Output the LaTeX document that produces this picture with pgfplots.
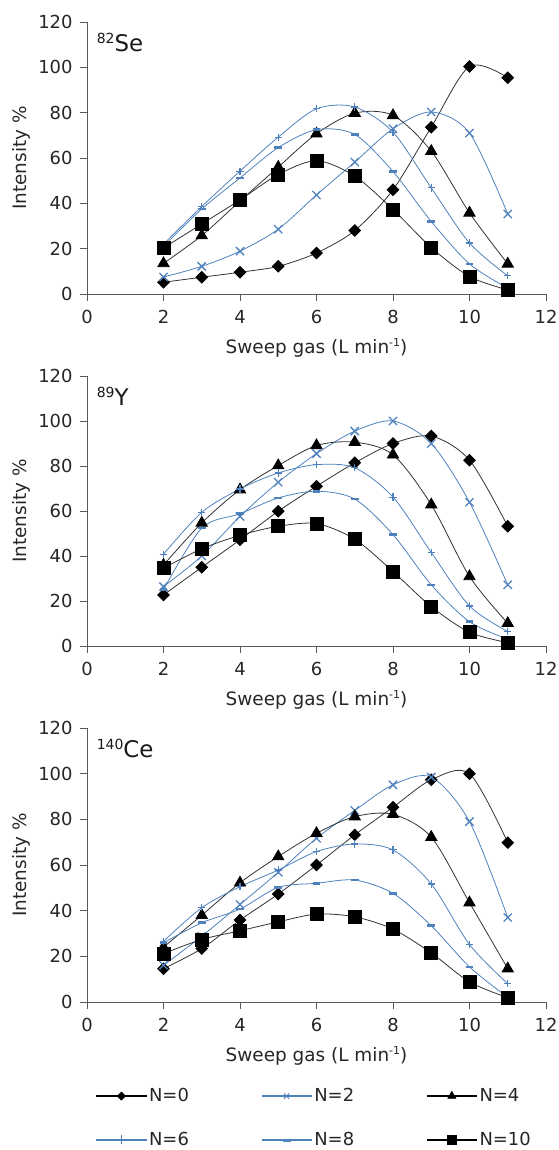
\documentclass[border=0pt]{standalone}
\usepackage{fontspec}
\setmainfont{DejaVu Sans}
\usepackage{pgfplots}
\pgfplotsset{compat=1.18}
\usepackage{pgfplotstable}

\definecolor{bl}{RGB}{79,129,189}
\definecolor{dk}{RGB}{50,50,50}

\pgfplotstableread{
x n0 n2 n4 n6 n8 n10
2 5.2 7.5 13.5 22 21 20.3
3 7.4 12.2 25.8 38.6 37.5 30.9
4 9.6 18.9 41 54.2 51.2 41.5
5 12.2 28.6 56 69.2 64.6 52.7
6 18.1 43.7 70.7 81.7 72.5 58.8
7 28 58.2 79.8 82.5 70.4 52
8 46 72.9 78.8 71.4 54 37.3
9 73.6 80.3 63 46.8 32 20.5
10 100.4 71 35.8 22.5 13.3 7.7
11 95.4 35.3 13.3 8 2.5 1.8
}\Se

\pgfplotstableread{
x n0 n2 n4 n6 n8 n10
2 22.7 26.4 36 40.8 25 34.6
3 35 40 54.7 59.4 52.4 43.2
4 47.2 57.6 69.5 69.8 58.8 49.2
5 59.9 72.8 80.2 76.9 65.8 53.2
6 71 85.5 89.1 80.6 68.8 54.4
7 81.4 95.5 90.6 79.2 65.3 47.5
8 90 100 85 66.2 49.5 33.1
9 93.3 90 62.8 41.6 27.2 17.5
10 82.6 63.9 30.9 17.8 10.8 6.1
11 53.2 27.2 10.1 6.4 3 1.5
}\Yt

\pgfplotstableread{
x n0 n2 n4 n6 n8 n10
2 14.6 16.1 24 26.6 25.9 21.2
3 23.4 28.8 38 41.3 34.7 27.4
4 35.9 42.7 52.2 50.5 40.7 31.2
5 47.3 56.8 63.7 57.8 50.2 35.1
6 60 71.7 73.9 65.9 52 38.5
7 73.2 83.9 81.2 69.2 53.4 37.3
8 85.3 95.1 82.2 66.6 47.6 31.9
9 97.3 98.5 72.2 51.7 33.4 21.5
10 100 79 43.5 25.2 15.4 8.8
11 69.8 37 14.6 8 2 1.9
}\Ce

\pgfplotsset{
 panel/.style={
  scale only axis, width=459bp, height=272bp,
  xmin=0,xmax=12,ymin=0,ymax=120,
  xtick={0,2,...,12}, ytick={0,20,...,120},
  axis x line*=bottom, axis y line*=left,
  axis line style={-, black!65, line width=0.9pt},
  tick align=outside, major tick length=7bp,
  tick style={black!65, line width=0.9pt},
  /pgf/number format/assume math mode=true,
  tick label style={font=\fontsize{18}{21}\selectfont, text=black!85},
  xticklabel style={yshift=-6bp},
  yticklabel style={xshift=-4bp},
  label style={font=\fontsize{18.5}{21}\selectfont, text=black!85},
  xlabel={Sweep gas (L min\raisebox{6.5bp}{\fontsize{11}{11}\selectfont-1})},
  ylabel={Intensity \%},
  xlabel style={at={(axis description cs:0.5,0)}, anchor=center, yshift=-54bp},
  ylabel style={at={(axis description cs:0,0.5)}, anchor=center, yshift=66bp},
  clip=false,
 },
 lg/.style n args={3}{legend image code/.code={\draw[#1, line width=1.4pt, mark repeat=2, mark phase=2, #2, mark options={#3}] plot coordinates {(0bp,0bp) (25bp,0bp) (50bp,0bp)};}},
 s0/.style={dk, line width=0.8pt, smooth, mark=square*, mark size=4.1bp, mark options={rotate=45, fill=black, draw=black, line width=0.8pt},
   lg={black}{mark=square*, mark size=2.9bp}{rotate=45, fill=black, draw=black, line width=0.5pt}},
 s2/.style={bl, line width=0.8pt, smooth, mark=x, mark size=5.8bp, mark options={line width=1.3pt},
   lg={bl}{mark=x, mark size=3.8bp}{line width=0.9pt}},
 s4/.style={dk, line width=0.8pt, smooth, mark=triangle*, mark size=6.5bp, mark options={fill=black, draw=black, line width=0.8pt},
   lg={black}{mark=triangle*, mark size=4.8bp}{fill=black, draw=black, line width=0.5pt}},
 s6/.style={bl, line width=0.8pt, smooth, mark=+, mark size=3.6bp, mark options={line width=1.1pt},
   lg={bl}{mark=+, mark size=4.5bp}{line width=0.8pt}},
 s8/.style={bl, line width=0.8pt, smooth, mark=-, mark size=3.9bp, mark options={line width=2.6pt},
   lg={bl}{mark=-, mark size=4bp}{line width=2.2pt, yshift=-1bp}},
 s10/.style={dk, line width=0.8pt, smooth, mark=square*, mark size=6.5bp, mark options={fill=black, draw=black, line width=0.8pt},
   lg={black}{mark=square*, mark size=4.6bp}{fill=black, draw=black, line width=0.5pt}},
}

\begin{document}
\begin{tikzpicture}
\useasboundingbox (0,0) rectangle (559bp,-1150bp);

\begin{axis}[panel, at={(87bp,-294bp)}, anchor=south west]
\addplot[s0] table[x=x,y=n0]{\Se};
\addplot[s2] table[x=x,y=n2]{\Se};
\addplot[s4] table[x=x,y=n4]{\Se};
\addplot[s6] table[x=x,y=n6]{\Se};
\addplot[s8] table[x=x,y=n8]{\Se};
\addplot[s10] table[x=x,y=n10]{\Se};
\node[anchor=west, font=\fontsize{23}{27}\selectfont, inner sep=0pt, text=black!90] at (axis cs:0.25,111) {\raisebox{8.5bp}{\fontsize{14}{14}\selectfont 82}Se};
\end{axis}

\begin{axis}[panel, at={(87bp,-646bp)}, anchor=south west, height=270bp]
\addplot[s0] table[x=x,y=n0]{\Yt};
\addplot[s2] table[x=x,y=n2]{\Yt};
\addplot[s4] table[x=x,y=n4]{\Yt};
\addplot[s6] table[x=x,y=n6]{\Yt};
\addplot[s8] table[x=x,y=n8]{\Yt};
\addplot[s10] table[x=x,y=n10]{\Yt};
\node[anchor=west, font=\fontsize{23}{27}\selectfont, inner sep=0pt, text=black!90] at (axis cs:0.25,111) {\raisebox{8.5bp}{\fontsize{14}{14}\selectfont 89}Y};
\end{axis}

\begin{axis}[panel, at={(87bp,-1002bp)}, anchor=south west, height=274bp,
  legend columns=3,
  legend style={at={(0.012,-0.301)}, anchor=north west, draw=none, fill=none,
    font=\fontsize{18}{21}\selectfont, text=black!85,
    /tikz/every even column/.append style={column sep=70bp},
    /tikz/row sep=25bp},
  legend cell align=left]
\addplot[s0] table[x=x,y=n0]{\Ce}; \addlegendentry{N=0}
\addplot[s2] table[x=x,y=n2]{\Ce}; \addlegendentry{N=2}
\addplot[s4] table[x=x,y=n4]{\Ce}; \addlegendentry{N=4}
\addplot[s6] table[x=x,y=n6]{\Ce}; \addlegendentry{N=6}
\addplot[s8] table[x=x,y=n8]{\Ce}; \addlegendentry{N=8}
\addplot[s10] table[x=x,y=n10]{\Ce}; \addlegendentry{N=10}
\node[anchor=west, font=\fontsize{23}{27}\selectfont, inner sep=0pt, text=black!90] at (axis cs:0.25,111) {\raisebox{8.5bp}{\fontsize{14}{14}\selectfont 140}Ce};
\end{axis}
\end{tikzpicture}
\end{document}
